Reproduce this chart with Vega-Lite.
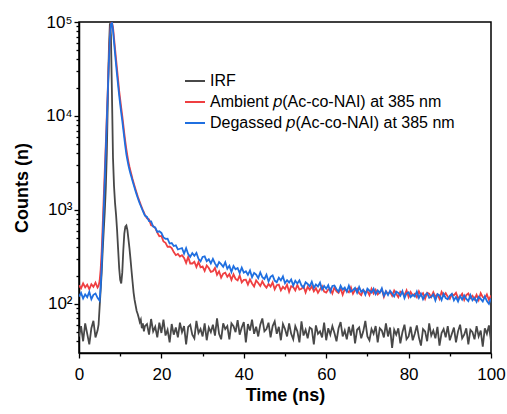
{
"$schema": "https://vega.github.io/schema/vega-lite/v6.json",
"width": 412, "height": 331,
"autosize": {"type": "none"},
"padding": {"left": 79, "top": 22, "right": 16, "bottom": 61},
"background": "white",
"data": {"values": [
{"t":0,"i":45,"a":158,"d":120},{"t":0.5,"i":58,"a":146,"d":131},{"t":1,"i":40,"a":165,"d":114},{"t":1.5,"i":62,"a":150,"d":126},{"t":2,"i":48,"a":160,"d":118},{"t":2.5,"i":37,"a":143,"d":134},{"t":3,"i":55,"a":162,"d":112},{"t":3.5,"i":66,"a":152,"d":125},{"t":4,"i":44,"a":168,"d":129},{"t":4.5,"i":52,"a":149,"d":116},
{"t":4.75,"i":60,"a":155,"d":112},{"t":5,"i":92,"a":175,"d":108},{"t":5.25,"i":140,"a":230,"d":150},{"t":5.5,"i":215,"a":360,"d":255},{"t":5.75,"i":370,"a":680,"d":500},{"t":6,"i":600,"a":1350,"d":1000},{"t":6.25,"i":950,"a":2600,"d":2000},{"t":6.5,"i":1700,"a":5000,"d":4300},{"t":6.75,"i":4000,"a":10000,"d":9000},{"t":7,"i":15000,"a":20000,"d":18500},{"t":7.25,"i":50000,"a":40000,"d":38000},{"t":7.5,"i":97000,"a":72000,"d":68000},{"t":7.75,"i":72000,"a":97000,"d":95000},{"t":8,"i":17000,"a":99000,"d":98000},{"t":8.25,"i":3600,"a":88000,"d":82000},{"t":8.5,"i":1800,"a":68000,"d":61000},{"t":8.75,"i":1180,"a":52000,"d":46000},{"t":9,"i":880,"a":40000,"d":35000},{"t":9.25,"i":600,"a":31000,"d":27000},{"t":9.5,"i":380,"a":24000,"d":21000},{"t":9.75,"i":240,"a":18500,"d":16500},{"t":10,"i":180,"a":15000,"d":13300},{"t":10.25,"i":165,"a":12200,"d":10800},{"t":10.5,"i":215,"a":10000,"d":8900},{"t":10.75,"i":370,"a":8100,"d":7200},{"t":11,"i":560,"a":6500,"d":5800},{"t":11.25,"i":665,"a":5300,"d":4700},{"t":11.5,"i":685,"a":4400,"d":3900},{"t":11.75,"i":610,"a":3750,"d":3400},{"t":12,"i":490,"a":3250,"d":2980},{"t":12.25,"i":390,"a":2880,"d":2680},{"t":12.5,"i":300,"a":2600,"d":2420},{"t":12.75,"i":225,"a":2350,"d":2220},{"t":13,"i":172,"a":2130,"d":2030},{"t":13.25,"i":132,"a":1950,"d":1860},{"t":13.5,"i":110,"a":1790,"d":1710},{"t":13.75,"i":96,"a":1640,"d":1575},{"t":14,"i":84,"a":1510,"d":1455},{"t":14.25,"i":78,"a":1395,"d":1350},{"t":14.5,"i":71,"a":1300,"d":1255},{"t":14.75,"i":64,"a":1210,"d":1170},{"t":15,"i":68,"a":1130,"d":1100},{"t":15.25,"i":55,"a":1060,"d":1035},{"t":15.5,"i":62,"a":995,"d":975},{"t":15.75,"i":51,"a":940,"d":920},{"t":16,"i":58,"a":885,"d":870},
{"t":16.5,"i":61,"a":813,"d":841},{"t":17,"i":47,"a":793,"d":758},{"t":17.5,"i":69,"a":686,"d":754},{"t":18,"i":51,"a":675,"d":664},{"t":18.5,"i":57,"a":642,"d":651},{"t":19,"i":44,"a":572,"d":583},{"t":19.5,"i":63,"a":524,"d":592},{"t":20,"i":49,"a":528,"d":569},{"t":20.5,"i":68,"a":461,"d":509},{"t":21,"i":46,"a":447,"d":492},{"t":21.5,"i":53,"a":405,"d":495},{"t":22,"i":39,"a":408,"d":439},{"t":22.5,"i":61,"a":393,"d":444},{"t":23,"i":47,"a":356,"d":413},{"t":23.5,"i":56,"a":330,"d":419},{"t":24,"i":44,"a":340,"d":379},{"t":24.5,"i":63,"a":319,"d":386},
{"t":25,"i":50,"a":330,"d":393},{"t":25.5,"i":58,"a":308,"d":343},{"t":26,"i":37,"a":273,"d":392},{"t":26.5,"i":57,"a":316,"d":338},{"t":27,"i":60,"a":269,"d":317},{"t":27.5,"i":47,"a":269,"d":347},{"t":28,"i":43,"a":281,"d":325},{"t":28.5,"i":66,"a":247,"d":348},{"t":29,"i":49,"a":279,"d":301},{"t":29.5,"i":54,"a":245,"d":284},{"t":30,"i":45,"a":250,"d":316},{"t":30.5,"i":62,"a":224,"d":320},{"t":31,"i":41,"a":256,"d":285},{"t":31.5,"i":56,"a":241,"d":298},{"t":32,"i":50,"a":219,"d":270},{"t":32.5,"i":60,"a":223,"d":301},{"t":33,"i":46,"a":241,"d":270},{"t":33.5,"i":70,"a":204,"d":248},{"t":34,"i":48,"a":222,"d":279},{"t":34.5,"i":42,"a":190,"d":265},{"t":35,"i":62,"a":210,"d":248},{"t":35.5,"i":54,"a":215,"d":277},{"t":36,"i":58,"a":194,"d":236},{"t":36.5,"i":42,"a":207,"d":254},{"t":37,"i":62,"a":180,"d":219},{"t":37.5,"i":58,"a":206,"d":253},{"t":38,"i":50,"a":184,"d":234},{"t":38.5,"i":67,"a":178,"d":241},{"t":39,"i":47,"a":201,"d":213},{"t":39.5,"i":56,"a":169,"d":243},{"t":40,"i":64,"a":180,"d":215},{"t":40.5,"i":39,"a":181,"d":222},{"t":41,"i":61,"a":160,"d":204},{"t":41.5,"i":52,"a":182,"d":227},{"t":42,"i":68,"a":165,"d":192},{"t":42.5,"i":48,"a":153,"d":214},{"t":43,"i":57,"a":178,"d":205},{"t":43.5,"i":45,"a":167,"d":188},{"t":44,"i":60,"a":155,"d":216},{"t":44.5,"i":70,"a":174,"d":192},{"t":45,"i":51,"a":158,"d":184},{"t":45.5,"i":54,"a":149,"d":204},{"t":46,"i":63,"a":163,"d":173},{"t":46.5,"i":44,"a":153,"d":194},{"t":47,"i":58,"a":169,"d":201},{"t":47.5,"i":65,"a":143,"d":177},{"t":48,"i":48,"a":158,"d":170},{"t":48.5,"i":57,"a":160,"d":190},{"t":49,"i":41,"a":139,"d":178},{"t":49.5,"i":61,"a":152,"d":196},{"t":50,"i":54,"a":144,"d":166},{"t":50.5,"i":45,"a":160,"d":179},{"t":51,"i":62,"a":134,"d":169},{"t":51.5,"i":48,"a":154,"d":182},{"t":52,"i":42,"a":151,"d":157},{"t":52.5,"i":58,"a":139,"d":176},{"t":53,"i":51,"a":159,"d":165},{"t":53.5,"i":39,"a":142,"d":178},{"t":54,"i":65,"a":145,"d":157},{"t":54.5,"i":46,"a":154,"d":149},{"t":55,"i":53,"a":132,"d":170},{"t":55.5,"i":43,"a":152,"d":163},{"t":56,"i":56,"a":141,"d":154},{"t":56.5,"i":54,"a":154,"d":172},{"t":57,"i":37,"a":136,"d":148},{"t":57.5,"i":59,"a":147,"d":161},{"t":58,"i":48,"a":131,"d":153},{"t":58.5,"i":51,"a":143,"d":168},{"t":59,"i":44,"a":154,"d":142},{"t":59.5,"i":63,"a":135,"d":155},{"t":60,"i":41,"a":132,"d":145},{"t":60.5,"i":55,"a":142,"d":158},{"t":61,"i":47,"a":146,"d":135},{"t":61.5,"i":58,"a":129,"d":155},{"t":62,"i":49,"a":150,"d":157},{"t":62.5,"i":40,"a":136,"d":143},{"t":63,"i":55,"a":131,"d":135},{"t":63.5,"i":64,"a":146,"d":156},{"t":64,"i":45,"a":125,"d":142},{"t":64.5,"i":52,"a":143,"d":149},{"t":65,"i":42,"a":138,"d":135},{"t":65.5,"i":57,"a":133,"d":156},{"t":66,"i":46,"a":150,"d":135},{"t":66.5,"i":60,"a":128,"d":140},{"t":67,"i":38,"a":140,"d":148},{"t":67.5,"i":53,"a":145,"d":131},{"t":68,"i":56,"a":130,"d":151},{"t":68.5,"i":43,"a":124,"d":134},{"t":69,"i":51,"a":141,"d":141},{"t":69.5,"i":66,"a":133,"d":125},{"t":70,"i":45,"a":137,"d":145},{"t":70.5,"i":41,"a":124,"d":138},{"t":71,"i":54,"a":145,"d":132},{"t":71.5,"i":48,"a":129,"d":145},{"t":72,"i":58,"a":141,"d":127},{"t":72.5,"i":39,"a":126,"d":139},{"t":73,"i":55,"a":133,"d":131},{"t":73.5,"i":52,"a":142,"d":146},{"t":74,"i":44,"a":119,"d":122},{"t":74.5,"i":62,"a":136,"d":136},{"t":75,"i":45,"a":128,"d":124},{"t":75.5,"i":56,"a":134,"d":138},{"t":76,"i":34,"a":122,"d":129},{"t":76.5,"i":53,"a":139,"d":120},{"t":77,"i":47,"a":128,"d":135},{"t":77.5,"i":55,"a":118,"d":131},{"t":78,"i":38,"a":135,"d":122},{"t":78.5,"i":50,"a":131,"d":137},{"t":79,"i":60,"a":123,"d":115},{"t":79.5,"i":42,"a":139,"d":129},{"t":80,"i":45,"a":118,"d":133},{"t":80.5,"i":57,"a":134,"d":118},{"t":81,"i":41,"a":123,"d":125},{"t":81.5,"i":48,"a":128,"d":120},{"t":82,"i":59,"a":118,"d":135},{"t":82.5,"i":44,"a":136,"d":116},{"t":83,"i":36,"a":123,"d":128},{"t":83.5,"i":54,"a":130,"d":112},{"t":84,"i":51,"a":113,"d":124},{"t":84.5,"i":40,"a":131,"d":130},{"t":85,"i":62,"a":128,"d":116},{"t":85.5,"i":46,"a":118,"d":119},{"t":86,"i":52,"a":133,"d":126},{"t":86.5,"i":43,"a":119,"d":109},{"t":87,"i":57,"a":126,"d":127},{"t":87.5,"i":36,"a":113,"d":123},{"t":88,"i":49,"a":134,"d":110},{"t":88.5,"i":54,"a":122,"d":128},{"t":89,"i":44,"a":130,"d":115},{"t":89.5,"i":58,"a":119,"d":112},{"t":90,"i":41,"a":113,"d":122},{"t":90.5,"i":48,"a":127,"d":128},{"t":91,"i":56,"a":123,"d":109},{"t":91.5,"i":39,"a":131,"d":118},{"t":92,"i":51,"a":115,"d":106},{"t":92.5,"i":60,"a":119,"d":121},{"t":93,"i":43,"a":128,"d":111},{"t":93.5,"i":47,"a":110,"d":123},{"t":94,"i":55,"a":124,"d":113},{"t":94.5,"i":37,"a":129,"d":107},{"t":95,"i":53,"a":115,"d":124},{"t":95.5,"i":50,"a":122,"d":109},{"t":96,"i":42,"a":112,"d":116},{"t":96.5,"i":58,"a":125,"d":105},{"t":97,"i":45,"a":110,"d":119},{"t":97.5,"i":52,"a":130,"d":113},{"t":98,"i":35,"a":118,"d":106},{"t":98.5,"i":55,"a":115,"d":120},{"t":99,"i":48,"a":126,"d":107},{"t":99.5,"i":59,"a":110,"d":100},{"t":100,"i":40,"a":123,"d":114}
]},
"transform": [{"fold": ["i","a","d"], "as": ["s","c"]}],
"mark": {"type": "line", "strokeWidth": 1.8, "clip": true},
"encoding": {
  "x": {"field": "t", "type": "quantitative",
    "scale": {"domain": [0, 100], "nice": false},
    "axis": {"title": "Time (ns)", "values": [0,10,20,30,40,50,60,70,80,90,100],
      "labelExpr": "datum.value % 20 == 0 ? datum.label : ''",
      "tickSize": {"condition": {"test": "datum.value % 20 == 0", "value": 5}, "value": 3},
      "labelFlush": false, "labelPadding": 8, "titlePadding": 4, "grid": false}},
  "y": {"field": "c", "type": "quantitative",
    "scale": {"type": "log", "domain": [30, 100000], "nice": false},
    "axis": {"title": "Counts (n)",
      "values": [40,50,60,70,80,90,100,200,300,400,500,600,700,800,900,1000,2000,3000,4000,5000,6000,7000,8000,9000,10000,20000,30000,40000,50000,60000,70000,80000,90000,100000],
      "labelExpr": "datum.value == 100 ? '10²' : datum.value == 1000 ? '10³' : datum.value == 10000 ? '10⁴' : datum.value == 100000 ? '10⁵' : ''",
      "tickSize": {"condition": {"test": "datum.value == 100 || datum.value == 1000 || datum.value == 10000 || datum.value == 100000", "value": 5}, "value": 3},
      "labelOverlap": false, "labelPadding": 2, "titlePadding": 14, "grid": false}},
  "color": {"field": "s", "type": "nominal",
    "scale": {"domain": ["i","a","d"], "range": ["#484848", "#ef3f41", "#1f6fe0"]},
    "legend": {"title": null, "orient": "none", "legendX": 105, "legendY": 48, "padding": 0,
      "symbolType": "stroke", "symbolSize": 400, "symbolStrokeWidth": 2, "labelOffset": 4, "rowPadding": 2,
      "labelFontSize": 16, "labelLimit": 400, "labelColor": "black",
      "labelExpr": "datum.value == 'i' ? 'IRF' : datum.value == 'a' ? 'Ambient 𝑝(Ac-co-NAI) at 385 nm' : 'Degassed 𝑝(Ac-co-NAI) at 385 nm'"}}
},
"config": {
  "font": "Liberation Sans",
  "view": {"stroke": "black", "strokeWidth": 1.5},
  "axis": {"domainColor": "black", "domainWidth": 1.5, "tickColor": "black", "tickWidth": 1.3,
    "labelFontSize": 17, "labelColor": "black", "labelFont": "Liberation Sans",
    "titleFontSize": 18, "titleFontWeight": "bold", "titleColor": "black", "titleFont": "Liberation Sans"},
  "legend": {"labelFont": "Liberation Sans"}
}
}
